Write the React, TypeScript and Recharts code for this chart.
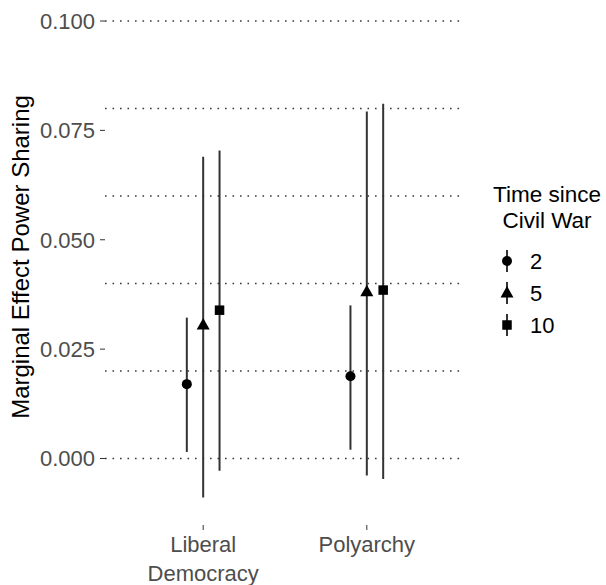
import React from "react";
import { ScatterChart, Scatter, ErrorBar, XAxis, YAxis, ReferenceLine, Label } from "recharts";

const categories = ["Liberal Democracy", "Polyarchy"];
const groups = ["2", "5", "10"];

const est2 = [0.017, 0.0188];
const est5 = [0.0305, 0.0381];
const est10 = [0.0339, 0.0385];

const low2 = [0.0015, 0.002];
const low5 = [-0.0089, -0.0039];
const low10 = [-0.0028, -0.0047];

const high2 = [0.0322, 0.035];
const high5 = [0.069, 0.0793];
const high10 = [0.0704, 0.0811];

const yTicks = [0, 0.025, 0.05, 0.075, 0.1];
const refLevels = [0, 0.02, 0.04, 0.06, 0.08, 0.1];

const FONT = '"Liberation Sans", Arial, Helvetica, sans-serif';
const DODGE = 0.1;
const BAR = "#333333";

function build(est: number[], low: number[], high: number[], k: number) {
  return categories.map((c, i) => ({
    name: c,
    x: i + 1 + (k - 1) * DODGE,
    y: est[i],
    err: [est[i] - low[i], high[i] - est[i]],
  }));
}

const series = [
  build(est2, low2, high2, 0),
  build(est5, low5, high5, 1),
  build(est10, low10, high10, 2),
];

const CircleShape = (p: any) => <circle cx={p.cx} cy={p.cy} r={5} fill="#000" />;
const TriangleShape = (p: any) => (
  <polygon
    points={`${p.cx},${p.cy - 7} ${p.cx - 6.5},${p.cy + 4.5} ${p.cx + 6.5},${p.cy + 4.5}`}
    fill="#000"
  />
);
const SquareShape = (p: any) => (
  <rect x={p.cx - 4.75} y={p.cy - 4.75} width={9.5} height={9.5} fill="#000" />
);
const shapes = [CircleShape, TriangleShape, SquareShape];

const XTick = (props: any) => {
  const { x, y, payload } = props;
  const label = categories[Math.round(payload.value) - 1] || "";
  const lines = label.split(" ");
  return (
    <text x={x} y={y} textAnchor="middle" fill="#4d4d4d" fontSize={22} fontFamily={FONT}>
      {lines.map((l: string, i: number) => (
        <tspan key={i} x={x} dy={i === 0 ? 20 : 29}>
          {l}
        </tspan>
      ))}
    </text>
  );
};

function LegendOverlay() {
  const rows = [261, 293, 325];
  return (
    <svg width={606} height={585} style={{ position: "absolute", left: 0, top: 0, pointerEvents: "none" }}>
      <text x={547} y={202} textAnchor="middle" fontSize={22.5} fontFamily={FONT} fill="#000">
        Time since
      </text>
      <text x={547} y={228} textAnchor="middle" fontSize={22.5} fontFamily={FONT} fill="#000">
        Civil War
      </text>
      {groups.map((g, i) => {
        const cy = rows[i];
        const Shape = shapes[i];
        return (
          <g key={g}>
            <line x1={507} x2={507} y1={cy - 11} y2={cy + 11} stroke={BAR} strokeWidth={2} />
            <Shape cx={507} cy={cy} />
            <text x={530} y={cy} dy="0.355em" fontSize={22} fontFamily={FONT} fill="#000">
              {g}
            </text>
          </g>
        );
      })}
    </svg>
  );
}

export default function App() {
  return (
    <div style={{ position: "absolute", left: 0, top: 0, width: 606, height: 585, background: "#fff" }}>
      <ScatterChart width={606} height={585} margin={{ top: 0, right: 141, bottom: 0, left: 0 }}>
        <XAxis
          type="number"
          dataKey="x"
          domain={[0.4, 2.6]}
          ticks={[1, 2]}
          allowDataOverflow
          axisLine={false}
          tickLine={{ stroke: BAR }}
          tickSize={5}
          height={60}
          interval={0}
          tick={<XTick />}
        />
        <YAxis
          type="number"
          dataKey="y"
          domain={[-0.0152, 0.1048]}
          ticks={yTicks}
          allowDataOverflow
          axisLine={false}
          tickLine={{ stroke: BAR }}
          tickSize={5}
          tickMargin={5}
          width={105}
          interval={0}
          tickFormatter={(v: number) => v.toFixed(3)}
          tick={{ fill: "#4d4d4d", fontSize: 22, fontFamily: FONT }}
        >
          <Label
            content={() => (
              <text
                x={29}
                y={257}
                transform="rotate(-90 29 257)"
                textAnchor="middle"
                fontSize={24}
                fontFamily={FONT}
                fill="#000"
              >
                Marginal Effect Power Sharing
              </text>
            )}
          />
        </YAxis>
        {refLevels.map((v) => (
          <ReferenceLine key={v} y={v} stroke="#3a3a3a" strokeWidth={1.6} strokeDasharray="1.6 5.9" />
        ))}
        {series.map((data, i) => (
          <Scatter key={groups[i]} name={groups[i]} data={data} shape={shapes[i]} isAnimationActive={false}>
            <ErrorBar dataKey="err" direction="y" width={0} stroke={BAR} strokeWidth={2} />
          </Scatter>
        ))}
      </ScatterChart>
      <LegendOverlay />
    </div>
  );
}
